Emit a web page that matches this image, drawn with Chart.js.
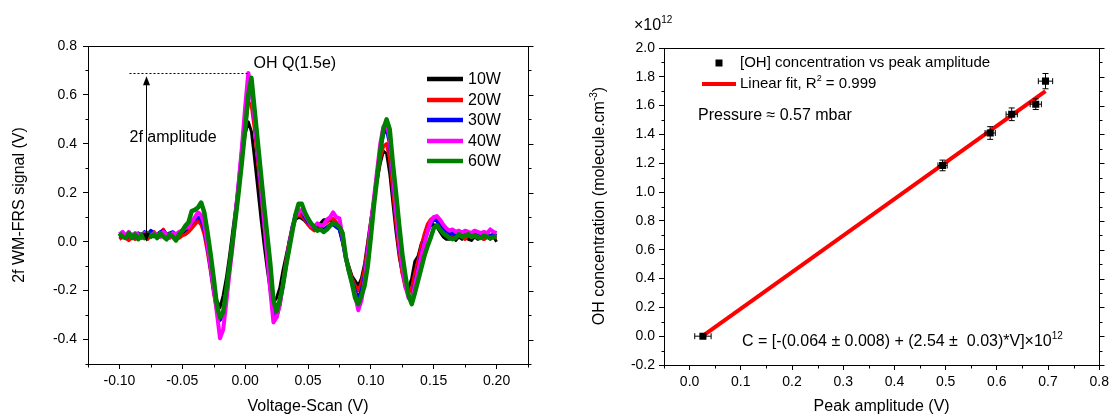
<!DOCTYPE html>
<html><head><meta charset="utf-8">
<script src="https://cdn.jsdelivr.net/npm/chart.js@4/dist/chart.umd.min.js"></script>
<style>
html,body{margin:0;padding:0;background:#fff;width:1113px;height:416px;overflow:hidden}
#c1{position:absolute;left:0;top:0}
#c2{position:absolute;left:556px;top:0}
</style></head><body>
<canvas id="c1" width="556" height="416"></canvas>
<canvas id="c2" width="557" height="416"></canvas>
<script>
// ---------- LEFT PANEL DATA ----------
const scanV = [
-0.1,-0.0975,-0.095,-0.0925,-0.09,-0.0875,-0.085,-0.0825,-0.08,-0.0775,
-0.075,-0.0725,-0.07,-0.0675,-0.065,-0.0625,-0.06,-0.0575,-0.055,-0.0525,
-0.05,-0.0475,-0.045,-0.0425,-0.04,-0.0375,-0.035,-0.0325,-0.03,-0.0275,
-0.025,-0.0225,-0.02,-0.0175,-0.015,-0.0125,-0.01,-0.0075,-0.005,-0.0025,
0,0.0025,0.005,0.0075,0.01,0.0125,0.015,0.0175,0.02,0.0225,
0.025,0.0275,0.03,0.0325,0.035,0.0375,0.04,0.0425,0.045,0.0475,
0.05,0.0525,0.055,0.0575,0.06,0.0625,0.065,0.0675,0.07,0.0725,
0.075,0.0775,0.08,0.0825,0.085,0.0875,0.09,0.0925,0.095,0.0975,
0.1,0.1025,0.105,0.1075,0.11,0.1125,0.115,0.1175,0.12,0.1225,
0.125,0.1275,0.13,0.1325,0.135,0.1375,0.14,0.1425,0.145,0.1475,
0.15,0.1525,0.155,0.1575,0.16,0.1625,0.165,0.1675,0.17,0.1725,
0.175,0.1775,0.18,0.1825,0.185,0.1875,0.19,0.1925,0.195,0.1975,
0.2];

const w10 = [
0.02,0.025,0.015,0.02,0.03,0.02,0.025,0.015,0.02,0.03,
0.025,0.02,0.03,0.025,0.02,0.03,0.02,0.025,0.03,0.02,
0.03,0.04,0.05,0.065,0.08,0.09,0.08,0.05,-0.01,-0.09,
-0.17,-0.24,-0.27,-0.22,-0.15,-0.06,0.04,0.14,0.24,0.34,
0.44,0.49,0.45,0.34,0.22,0.10,-0.01,-0.11,-0.20,-0.25,
-0.23,-0.19,-0.12,-0.06,0.0,0.05,0.09,0.10,0.095,0.085,
0.07,0.06,0.05,0.06,0.075,0.09,0.09,0.085,0.08,0.07,
0.05,0.0,-0.06,-0.10,-0.14,-0.16,-0.18,-0.15,-0.09,0.0,
0.09,0.17,0.25,0.32,0.37,0.36,0.28,0.16,0.04,-0.06,
-0.13,-0.18,-0.19,-0.15,-0.08,-0.06,-0.01,0.02,0.05,0.065,
0.07,0.06,0.04,0.02,0.01,0.01,0.025,0.005,0.02,0.01,
0.025,0.01,0.005,0.02,0.01,0.015,0.01,0.02,0.01,0.02,
0.0];

const w20 = [
0.01,0.02,0.015,0.005,0.02,0.01,0.03,0.015,0.02,0.01,
0.03,0.04,0.02,0.035,0.05,0.025,0.015,0.03,0.02,0.015,
0.025,0.03,0.04,0.055,0.07,0.085,0.07,0.03,-0.04,-0.12,
-0.21,-0.28,-0.32,-0.29,-0.20,-0.10,0.0,0.11,0.23,0.35,
0.47,0.57,0.56,0.46,0.33,0.20,0.07,-0.06,-0.18,-0.28,
-0.30,-0.25,-0.17,-0.08,0.0,0.06,0.10,0.11,0.105,0.09,
0.07,0.055,0.045,0.05,0.06,0.07,0.08,0.09,0.095,0.08,
0.06,0.0,-0.06,-0.11,-0.15,-0.18,-0.20,-0.17,-0.11,-0.02,
0.08,0.17,0.26,0.34,0.39,0.40,0.34,0.21,0.08,-0.04,
-0.13,-0.19,-0.21,-0.19,-0.13,-0.08,-0.02,0.03,0.07,0.09,
0.10,0.09,0.06,0.04,0.03,0.02,0.035,0.015,0.03,0.02,
0.01,0.03,0.02,0.025,0.015,0.02,0.01,0.02,0.015,0.02,
0.015];

const w30 = [
0.02,0.03,0.015,0.025,0.03,0.02,0.035,0.025,0.04,0.03,
0.045,0.035,0.03,0.04,0.045,0.03,0.035,0.04,0.03,0.035,
0.04,0.05,0.06,0.08,0.09,0.10,0.09,0.05,-0.02,-0.11,
-0.20,-0.27,-0.32,-0.30,-0.21,-0.11,0.0,0.12,0.25,0.38,
0.52,0.64,0.62,0.50,0.36,0.22,0.08,-0.06,-0.19,-0.30,
-0.31,-0.26,-0.18,-0.09,-0.01,0.06,0.11,0.13,0.12,0.10,
0.08,0.065,0.055,0.05,0.055,0.05,0.06,0.07,0.07,0.06,
0.05,0.0,-0.07,-0.12,-0.16,-0.20,-0.23,-0.20,-0.14,-0.04,
0.07,0.17,0.28,0.38,0.44,0.46,0.40,0.26,0.12,-0.01,
-0.10,-0.18,-0.22,-0.23,-0.17,-0.11,-0.05,0.0,0.04,0.07,
0.09,0.085,0.07,0.05,0.04,0.03,0.035,0.025,0.03,0.04,
0.03,0.035,0.025,0.03,0.035,0.025,0.03,0.03,0.025,0.03,
0.025];

const w40 = [
0.03,0.04,0.025,0.04,0.02,0.035,0.03,0.02,0.035,0.03,
0.025,0.035,0.03,0.02,0.04,0.03,0.02,0.035,0.03,0.04,
0.045,0.055,0.06,0.08,0.10,0.12,0.11,0.07,-0.01,-0.10,
-0.19,-0.29,-0.395,-0.36,-0.25,-0.13,-0.02,0.12,0.25,0.39,
0.55,0.69,0.62,0.50,0.37,0.24,0.09,-0.05,-0.20,-0.33,
-0.31,-0.26,-0.18,-0.10,-0.02,0.05,0.10,0.12,0.13,0.11,
0.09,0.065,0.06,0.075,0.065,0.07,0.09,0.10,0.12,0.10,
0.095,0.02,-0.06,-0.12,-0.17,-0.22,-0.28,-0.24,-0.16,-0.05,
0.07,0.18,0.29,0.40,0.47,0.49,0.42,0.28,0.13,0.0,
-0.10,-0.18,-0.23,-0.24,-0.18,-0.12,-0.06,-0.01,0.04,0.08,
0.10,0.105,0.09,0.07,0.055,0.045,0.05,0.04,0.045,0.035,
0.045,0.04,0.035,0.045,0.04,0.035,0.04,0.035,0.05,0.04,
0.035];

const w60 = [
0.035,0.02,0.015,0.035,0.015,0.03,0.01,0.03,0.015,0.035,
0.02,0.03,0.015,0.035,0.02,0.01,0.03,0.02,0.005,0.03,
0.045,0.065,0.08,0.125,0.13,0.14,0.16,0.12,0.04,-0.05,
-0.15,-0.26,-0.31,-0.29,-0.20,-0.10,0.0,0.10,0.21,0.33,
0.46,0.60,0.67,0.54,0.41,0.28,0.15,0.03,-0.09,-0.24,
-0.285,-0.24,-0.18,-0.10,-0.03,0.04,0.11,0.155,0.155,0.12,
0.095,0.075,0.06,0.045,0.05,0.04,0.05,0.065,0.077,0.07,
0.06,0.035,-0.06,-0.12,-0.17,-0.23,-0.255,-0.22,-0.18,-0.10,
0.02,0.15,0.26,0.37,0.46,0.50,0.46,0.32,0.20,0.07,
-0.05,-0.14,-0.22,-0.255,-0.21,-0.16,-0.11,-0.06,-0.02,0.015,
0.055,0.068,0.05,0.035,0.025,0.015,0.01,0.015,0.03,0.02,
0.025,0.03,0.02,0.025,0.02,0.015,0.025,0.02,0.015,0.02,
0.02];

const seriesLabels = ['10W','20W','30W','40W','60W'];
const seriesValues = [w10, w20, w30, w40, w60];
const leftXTicks = [-0.10,-0.05,0.00,0.05,0.10,0.15,0.20];
const leftYTicks = [-0.4,-0.2,0.0,0.2,0.4,0.6,0.8];
const leftXMinor = [-0.125,-0.075,-0.025,0.025,0.075,0.125,0.175,0.225];
const leftYMinor = [-0.5,-0.3,-0.1,0.1,0.3,0.5,0.7];

// ---------- RIGHT PANEL DATA ----------
const peakAmp  = [0.026, 0.494, 0.587, 0.629, 0.676, 0.695];
const ohConc   = [0.0, 1.185, 1.41, 1.54, 1.61, 1.77];
const ampErr   = [0.016, 0.009, 0.010, 0.011, 0.011, 0.014];
const concErr  = [0.012, 0.037, 0.044, 0.044, 0.037, 0.053];
const fitAmp   = [0.025, 0.695];
const fitConc  = [0.0, 1.70];
const rightXTicks = [0.0,0.1,0.2,0.3,0.4,0.5,0.6,0.7,0.8];
const rightYTicks = [-0.2,0.0,0.2,0.4,0.6,0.8,1.0,1.2,1.4,1.6,1.8,2.0];
const rightXMinor = [-0.05,0.05,0.15,0.25,0.35,0.45,0.55,0.65,0.75];
const rightYMinor = [-0.1,0.1,0.3,0.5,0.7,0.9,1.1,1.3,1.5,1.7,1.9];

// ---------- STYLE ----------
const FONT = "'Liberation Sans', Arial, Helvetica, sans-serif";
Chart.defaults.font.family = FONT;
Chart.defaults.color = '#000';
const seriesColors = ['#000000','#ff0000','#0000ff','#ff00ff','#008000'];
const seriesWidths = [3, 3.5, 3.5, 4, 4.5];

function drawFrame(chart, xMinor, yMinor) {
  const {ctx, chartArea:{left,right,top,bottom}, scales:{x,y}} = chart;
  ctx.save();
  ctx.strokeStyle = '#000'; ctx.lineWidth = 1;
  const L = Math.round(left)+0.5, R = Math.round(right)+0.5, T = Math.round(top)+0.5, B = Math.round(bottom)+0.5;
  ctx.strokeRect(L, T, R-L, B-T);
  ctx.beginPath();
  xMinor.forEach(v => { const px = Math.round(x.getPixelForValue(v))+0.5; ctx.moveTo(px,B); ctx.lineTo(px,B+3); });
  yMinor.forEach(v => { const py = Math.round(y.getPixelForValue(v))+0.5; ctx.moveTo(L-3,py); ctx.lineTo(L,py); ctx.moveTo(R,py); ctx.lineTo(R+3,py); });
  y.ticks.forEach(t => { const py = Math.round(y.getPixelForValue(t.value))+0.5; ctx.moveTo(R,py); ctx.lineTo(R+5,py); });
  ctx.stroke();
  ctx.restore();
}

function drawRich(ctx, x, y, parts, size) {
  let cx = x;
  parts.forEach(([t, sup]) => {
    const s = sup ? Math.round(size*0.62) : size;
    ctx.font = s + 'px ' + FONT;
    ctx.textBaseline = 'middle';
    ctx.textAlign = 'left';
    ctx.fillText(t, cx, sup ? y - size*0.38 : y);
    cx += ctx.measureText(t).width;
  });
  return cx - x;
}
function richWidth(ctx, parts, size) {
  let w = 0;
  parts.forEach(([t, sup]) => {
    const s = sup ? Math.round(size*0.62) : size;
    ctx.font = s + 'px ' + FONT;
    w += ctx.measureText(t).width;
  });
  return w;
}
const fixTicks = arr => s => { s.ticks = arr.map(v => ({value: v})); };

// ---------- LEFT CHART ----------
const leftDecor = {
  id: 'leftDecor',
  afterDraw(chart) {
    drawFrame(chart, leftXMinor, leftYMinor);
    const {ctx, scales:{x,y}} = chart;
    ctx.save();
    ctx.strokeStyle = '#000'; ctx.lineWidth = 1; ctx.setLineDash([2,2]);
    ctx.beginPath();
    const yPk = Math.round(y.getPixelForValue(0.69))+0.5;
    ctx.moveTo(x.getPixelForValue(-0.092), yPk); ctx.lineTo(x.getPixelForValue(0.002), yPk);
    ctx.stroke();
    ctx.setLineDash([]);
    const ax = Math.round(x.getPixelForValue(-0.079))+0.5;
    const yTop = y.getPixelForValue(0.676), yBot = y.getPixelForValue(0.0);
    ctx.beginPath(); ctx.moveTo(ax, yTop+2); ctx.lineTo(ax, yBot-2); ctx.stroke();
    ctx.fillStyle = '#000';
    ctx.beginPath(); ctx.moveTo(ax, yTop); ctx.lineTo(ax-3.5, yTop+9); ctx.lineTo(ax+3.5, yTop+9); ctx.closePath(); ctx.fill();
    ctx.beginPath(); ctx.moveTo(ax, yBot); ctx.lineTo(ax-3.5, yBot-9); ctx.lineTo(ax+3.5, yBot-9); ctx.closePath(); ctx.fill();
    ctx.font = '16px ' + FONT; ctx.textBaseline = 'middle'; ctx.textAlign = 'left'; ctx.fillStyle = '#000';
    ctx.fillText('2f amplitude', x.getPixelForValue(-0.092), y.getPixelForValue(0.424));
    ctx.fillText('OH Q(1.5e)', x.getPixelForValue(0.0066), y.getPixelForValue(0.73));
    const rows = [79, 100, 120, 141, 161];
    seriesLabels.forEach((lab, k) => {
      ctx.strokeStyle = seriesColors[k]; ctx.lineWidth = 4.5; ctx.lineCap = 'butt';
      ctx.beginPath(); ctx.moveTo(427, rows[k]); ctx.lineTo(463, rows[k]); ctx.stroke();
      ctx.fillStyle = '#000';
      ctx.fillText(lab, 468, rows[k]+1);
    });
    ctx.restore();
  }
};

new Chart(document.getElementById('c1'), {
  type: 'line',
  data: {
    datasets: seriesValues.map((vals, k) => ({
      label: seriesLabels[k],
      data: vals.map((v, i) => ({x: scanV[i], y: v})),
      borderColor: seriesColors[k],
      borderWidth: seriesWidths[k],
      pointRadius: 0,
      fill: false,
      tension: 0,
      borderJoinStyle: 'round',
      order: 4 - k
    }))
  },
  options: {
    responsive: false, animation: false,
    layout: {padding: {left: 0, right: 28, top: 46, bottom: 0}},
    plugins: {legend: {display: false}, tooltip: {enabled: false}},
    scales: {
      x: {
        type: 'linear', min: -0.125, max: 0.225,
        afterBuildTicks: fixTicks(leftXTicks),
        ticks: {autoSkip: false, maxRotation: 0, padding: 4,
                font: {size: 14}, color: '#000', callback: v => v.toFixed(2)},
        grid: {drawOnChartArea: false, drawTicks: true, tickLength: 5, color: '#000', tickColor: '#000'},
        border: {display: true, color: '#000'},
        title: {display: true, text: 'Voltage-Scan (V)', font: {size: 16}, color: '#000', padding: {top: 0, bottom: 0}},
        afterFit: s => { s.height = 52; }
      },
      y: {
        type: 'linear', min: -0.5, max: 0.8,
        afterBuildTicks: fixTicks(leftYTicks),
        ticks: {autoSkip: false, padding: 6,
                font: {size: 14}, color: '#000', callback: v => v.toFixed(1)},
        grid: {drawOnChartArea: false, drawTicks: true, tickLength: 5, color: '#000', tickColor: '#000'},
        border: {display: true, color: '#000'},
        title: {display: true, text: '2f WM-FRS signal (V)', font: {size: 16}, color: '#000', padding: {top: 10, bottom: 0}},
        afterFit: s => { s.width = 88; }
      }
    }
  },
  plugins: [leftDecor]
});

// ---------- RIGHT CHART ----------
const rightDecor = {
  id: 'rightDecor',
  afterDraw(chart) {
    drawFrame(chart, rightXMinor, rightYMinor);
    const {ctx, scales:{x,y}} = chart;
    ctx.save();
    ctx.fillStyle = '#000';
    ctx.strokeStyle = '#000'; ctx.lineWidth = 1;
    peakAmp.forEach((a, i) => {
      const px = x.getPixelForValue(a), py = y.getPixelForValue(ohConc[i]);
      const x0 = x.getPixelForValue(a - ampErr[i]), x1 = x.getPixelForValue(a + ampErr[i]);
      const y0 = y.getPixelForValue(ohConc[i] - concErr[i]), y1 = y.getPixelForValue(ohConc[i] + concErr[i]);
      ctx.beginPath();
      ctx.moveTo(x0, py); ctx.lineTo(x1, py);
      ctx.moveTo(x0, py-3); ctx.lineTo(x0, py+3);
      ctx.moveTo(x1, py-3); ctx.lineTo(x1, py+3);
      ctx.moveTo(px, y0); ctx.lineTo(px, y1);
      ctx.moveTo(px-3, y0); ctx.lineTo(px+3, y0);
      ctx.moveTo(px-3, y1); ctx.lineTo(px+3, y1);
      ctx.stroke();
    });
    drawRich(ctx, 78, 26, [['×10', false], ['12', true]], 16);
    ctx.fillRect(163-3.5, 63-3.5, 7, 7);
    drawRich(ctx, 184, 63, [['[OH] concentration vs peak amplitude', false]], 15);
    ctx.strokeStyle = '#ff0000'; ctx.lineWidth = 4;
    ctx.beginPath(); ctx.moveTo(146, 84); ctx.lineTo(180, 84); ctx.stroke();
    drawRich(ctx, 184, 84, [['Linear fit, R', false], ['2', true], [' = 0.999', false]], 15);
    drawRich(ctx, 142, 116, [['Pressure ≈ 0.57 mbar', false]], 16);
    drawRich(ctx, 186, 342, [['C = [-(0.064 ± 0.008) + (2.54 ±  0.03)*V]×10', false], ['12', true]], 16);
    const parts = [['OH concentration (molecule.cm', false], ['-3', true], [')', false]];
    const w = richWidth(ctx, parts, 16);
    ctx.translate(44, 206); ctx.rotate(-Math.PI/2);
    drawRich(ctx, -w/2, 0, parts, 16);
    ctx.restore();
  }
};

new Chart(document.getElementById('c2'), {
  type: 'scatter',
  data: {
    datasets: [
      {
        label: '[OH] concentration vs peak amplitude',
        data: peakAmp.map((a, i) => ({x: a, y: ohConc[i]})),
        pointStyle: 'rect', pointRadius: 5, backgroundColor: '#000', borderColor: '#000', borderWidth: 0,
        showLine: false, order: 0
      },
      {
        label: 'Linear fit',
        data: fitAmp.map((a, i) => ({x: a, y: fitConc[i]})),
        borderColor: '#ff0000', borderWidth: 4, pointRadius: 0, showLine: true, fill: false, order: 1
      }
    ]
  },
  options: {
    responsive: false, animation: false,
    layout: {padding: {left: 0, right: 11, top: 48, bottom: 0}},
    plugins: {legend: {display: false}, tooltip: {enabled: false}},
    scales: {
      x: {
        type: 'linear', min: -0.05, max: 0.8,
        afterBuildTicks: fixTicks(rightXTicks),
        ticks: {autoSkip: false, maxRotation: 0, padding: 4,
                font: {size: 14}, color: '#000', callback: v => v.toFixed(1)},
        grid: {drawOnChartArea: false, drawTicks: true, tickLength: 5, color: '#000', tickColor: '#000'},
        border: {display: true, color: '#000'},
        title: {display: true, text: 'Peak amplitude (V)', font: {size: 16}, color: '#000', padding: {top: 0, bottom: 0}},
        afterFit: s => { s.height = 51; }
      },
      y: {
        type: 'linear', min: -0.2, max: 2.0,
        afterBuildTicks: fixTicks(rightYTicks),
        ticks: {autoSkip: false, padding: 4,
                font: {size: 14}, color: '#000', callback: v => v.toFixed(1)},
        grid: {drawOnChartArea: false, drawTicks: true, tickLength: 5, color: '#000', tickColor: '#000'},
        border: {display: true, color: '#000'},
        title: {display: false},
        afterFit: s => { s.width = 108; }
      }
    }
  },
  plugins: [rightDecor]
});
</script>
</body></html>
